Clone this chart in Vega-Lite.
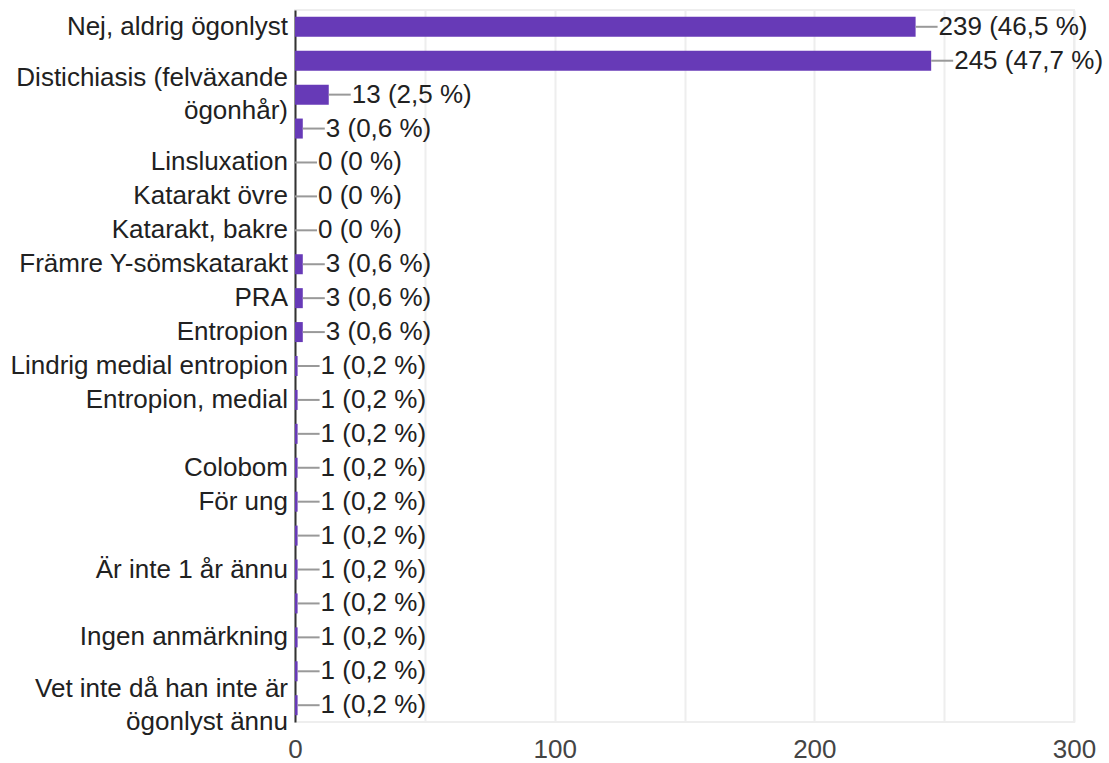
{
  "$schema": "https://vega.github.io/schema/vega-lite/v6.json",
  "width": 779,
  "height": 712,
  "autosize": {"type": "none"},
  "padding": {"left": 295, "top": 10, "right": 35, "bottom": 41},
  "background": "white",
  "config": {
    "font": "Liberation Sans",
    "view": {"stroke": "#eeeeee", "strokeWidth": 2}
  },
  "data": {
    "values": [
      {"id": 1, "label": "Nej, aldrig ögonlyst", "count": 239, "text": "239 (46,5 %)"},
      {"id": 2, "label": "", "count": 245, "text": "245 (47,7 %)"},
      {"id": 3, "label": "Distichiasis (felväxande\nögonhår)", "count": 13, "text": "13 (2,5 %)"},
      {"id": 4, "label": "", "count": 3, "text": "3 (0,6 %)"},
      {"id": 5, "label": "Linsluxation", "count": 0, "text": "0 (0 %)"},
      {"id": 6, "label": "Katarakt övre", "count": 0, "text": "0 (0 %)"},
      {"id": 7, "label": "Katarakt, bakre", "count": 0, "text": "0 (0 %)"},
      {"id": 8, "label": "Främre Y-sömskatarakt", "count": 3, "text": "3 (0,6 %)"},
      {"id": 9, "label": "PRA", "count": 3, "text": "3 (0,6 %)"},
      {"id": 10, "label": "Entropion", "count": 3, "text": "3 (0,6 %)"},
      {"id": 11, "label": "Lindrig medial entropion", "count": 1, "text": "1 (0,2 %)"},
      {"id": 12, "label": "Entropion, medial", "count": 1, "text": "1 (0,2 %)"},
      {"id": 13, "label": "", "count": 1, "text": "1 (0,2 %)"},
      {"id": 14, "label": "Colobom", "count": 1, "text": "1 (0,2 %)"},
      {"id": 15, "label": "För ung", "count": 1, "text": "1 (0,2 %)"},
      {"id": 16, "label": "", "count": 1, "text": "1 (0,2 %)"},
      {"id": 17, "label": "Är inte 1 år ännu", "count": 1, "text": "1 (0,2 %)"},
      {"id": 18, "label": "", "count": 1, "text": "1 (0,2 %)"},
      {"id": 19, "label": "Ingen anmärkning", "count": 1, "text": "1 (0,2 %)"},
      {"id": 20, "label": "", "count": 1, "text": "1 (0,2 %)"},
      {"id": 21, "label": "Vet inte då han inte är\nögonlyst ännu", "count": 1, "text": "1 (0,2 %)"}
    ]
  },
  "encoding": {
    "y": {
      "field": "id",
      "type": "ordinal",
      "sort": "ascending",
      "scale": {"paddingInner": 0.41, "paddingOuter": 0.2},
      "axis": {"labels": false, "ticks": false, "title": null, "domainColor": "#333333", "domainWidth": 2}
    }
  },
  "layer": [
    {
      "mark": {"type": "bar", "color": "#673ab7"},
      "encoding": {
        "x": {
          "field": "count",
          "type": "quantitative",
          "scale": {"domain": [0, 300], "nice": false},
          "axis": {
            "values": [0, 50, 100, 150, 200, 250, 300],
            "labelExpr": "datum.value % 100 === 0 ? datum.label : ''",
            "labelFlush": false,
            "labelOverlap": false,
            "title": null,
            "domain": false,
            "ticks": false,
            "gridColor": "#eeeeee",
            "gridWidth": 2,
            "labelFontSize": 26,
            "labelColor": "#444444",
            "labelPadding": 14
          }
        }
      }
    },
    {
      "mark": {"type": "rule", "color": "#999999", "strokeWidth": 2, "x2Offset": 22},
      "encoding": {
        "x": {"field": "count", "type": "quantitative"},
        "x2": {"field": "count"}
      }
    },
    {
      "mark": {"type": "text", "align": "left", "baseline": "middle", "dx": 23, "fontSize": 26, "color": "#212121"},
      "encoding": {
        "x": {"field": "count", "type": "quantitative"},
        "text": {"field": "text"}
      }
    },
    {
      "transform": [{"filter": "!test(/\\n/, datum.label)"}],
      "mark": {"type": "text", "align": "right", "baseline": "middle", "dx": -7, "fontSize": 26, "color": "#212121", "x": 0},
      "encoding": {
        "text": {"field": "label"}
      }
    },
    {
      "transform": [{"filter": "test(/\\n/, datum.label)"}],
      "mark": {"type": "text", "align": "right", "baseline": "middle", "dx": -7, "dy": -16.5, "fontSize": 26, "color": "#212121", "lineBreak": "\n", "lineHeight": 33, "x": 0},
      "encoding": {
        "text": {"field": "label"}
      }
    }
  ]
}
